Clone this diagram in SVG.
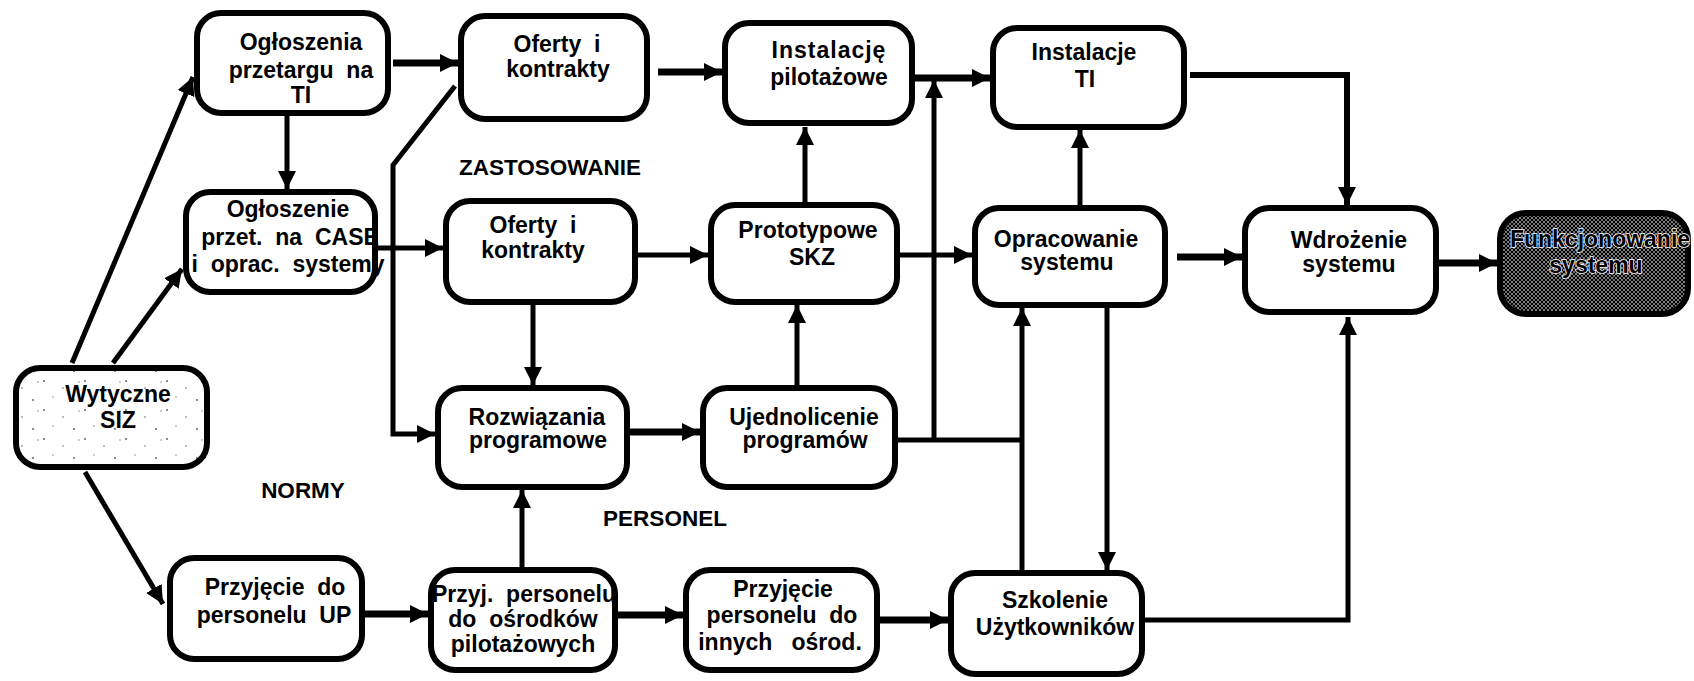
<svg xmlns="http://www.w3.org/2000/svg" width="1694" height="681" viewBox="0 0 1694 681">
<style>
.box{fill:#fff;stroke:#000;stroke-width:6}
.t{font-family:"Liberation Sans",Arial,sans-serif;font-weight:bold;font-size:23px;fill:#000;text-anchor:middle}
.lbl{font-family:"Liberation Sans",Arial,sans-serif;font-weight:bold;font-size:22.5px;fill:#000;text-anchor:middle}
.c{fill:none;stroke:#000;stroke-width:5;stroke-linejoin:miter}
.ca{fill:none;stroke:#000;stroke-width:5;marker-end:url(#ah)}
.cw{fill:none;stroke:#000;stroke-width:7;marker-end:url(#ah)}
.ft{stroke:#fff;stroke-width:1.6;paint-order:stroke}
</style>
<defs>
<marker id="ah" markerUnits="userSpaceOnUse" markerWidth="20" markerHeight="20" refX="18" refY="10" orient="auto">
<path d="M0,1 L18,10 L0,19 z" fill="#000"/>
</marker>
<pattern id="stip" width="41" height="29" patternUnits="userSpaceOnUse">
<rect width="41" height="29" fill="#fff"/>
<circle cx="3" cy="4" r="0.9" fill="#555"/>
<circle cx="22" cy="11" r="0.8" fill="#666"/>
<circle cx="33" cy="23" r="0.9" fill="#555"/>
<circle cx="12" cy="20" r="0.7" fill="#777"/>
<circle cx="38" cy="5" r="0.7" fill="#777"/>
</pattern>
<pattern id="hatch" width="4" height="4" patternUnits="userSpaceOnUse">
<rect width="4" height="4" fill="#fff"/>
<path d="M-1,1 L1,-1 M0,4 L4,0 M3,5 L5,3" stroke="#000" stroke-width="1.5"/>
<path d="M-1,3 L1,5 M0,0 L4,4 M3,-1 L5,1" stroke="#000" stroke-width="1.5"/>
</pattern>
</defs>

<g id="connectors">
<path class="ca" d="M72,363 L193,77"/>
<path class="ca" d="M113,363 L182,269"/>
<path class="ca" d="M85,472 L163,604"/>
<path class="ca" d="M287,116 L287,189"/>
<path class="cw" d="M393,63 L458,63"/>
<path class="ca" d="M372,248 L443,248"/>
<path class="ca" d="M455,86 L393,165 L393,434 L435,434"/>
<path class="cw" d="M658,72 L722,72"/>
<path class="cw" d="M915,78 L990,78"/>
<path class="ca" d="M934,440 L934,80"/>
<path class="ca" d="M1190,75 L1347,75 L1347,205" style="stroke-width:6"/>
<path class="ca" d="M638,255 L708,255"/>
<path class="ca" d="M805,202 L805,127"/>
<path class="ca" d="M900,255 L972,255"/>
<path class="ca" d="M1080,205 L1080,130"/>
<path class="cw" d="M1177,257 L1242,257"/>
<path class="cw" d="M1439,263 L1497,263"/>
<path class="ca" d="M533,305 L533,385"/>
<path class="cw" d="M630,432 L700,432"/>
<path class="ca" d="M797,385 L797,305"/>
<path class="c" d="M898,440 L1022,440"/>
<path class="ca" d="M1022,570 L1022,308"/>
<path class="ca" d="M1107,308 L1107,570"/>
<path class="ca" d="M1145,620 L1348,620 L1348,317"/>
<path class="cw" d="M365,614 L428,614"/>
<path class="ca" d="M522,567 L522,490"/>
<path class="cw" d="M618,615 L683,615"/>
<path class="cw" d="M880,620 L948,620"/>
</g>

<g id="n-ogloszenia"><rect class="box" x="197" y="13" width="191" height="100" rx="24"/>
<text class="t" x="301" y="50">Ogłoszenia</text><text class="t" x="301" y="78" xml:space="preserve">przetargu  na</text><text class="t" x="301" y="103">TI</text></g>

<g id="n-case"><rect class="box" x="186" y="192" width="189" height="100" rx="24"/>
<text class="t" x="288" y="217">Ogłoszenie</text><text class="t" x="290" y="245" xml:space="preserve">przet.  na  CASE</text><text class="t" x="288" y="272" xml:space="preserve">i  oprac.  systemy</text></g>

<g id="n-oferty1"><rect class="box" x="461" y="16" width="186" height="103" rx="24"/>
<text class="t" x="557" y="52" xml:space="preserve">Oferty  i</text><text class="t" x="558" y="77">kontrakty</text></g>

<g id="n-instalacje-pilot"><rect class="box" x="725" y="23" width="187" height="100" rx="24"/>
<text class="t" x="829" y="58" style="letter-spacing:1px">Instalację</text><text class="t" x="829" y="85">pilotażowe</text></g>

<g id="n-instalacje-ti"><rect class="box" x="993" y="28" width="191" height="99" rx="24"/>
<text class="t" x="1084" y="60">Instalacje</text><text class="t" x="1085" y="87">TI</text></g>

<g id="n-oferty2"><rect class="box" x="446" y="201" width="189" height="101" rx="24"/>
<text class="t" x="533" y="233" xml:space="preserve">Oferty  i</text><text class="t" x="533" y="258">kontrakty</text></g>

<g id="n-prototypowe"><rect class="box" x="711" y="205" width="186" height="97" rx="24"/>
<text class="t" x="808" y="238">Prototypowe</text><text class="t" x="812" y="265">SKZ</text></g>

<g id="n-opracowanie"><rect class="box" x="975" y="208" width="190" height="97" rx="24"/>
<text class="t" x="1066" y="247">Opracowanie</text><text class="t" x="1067" y="270">systemu</text></g>

<g id="n-wdrozenie"><rect class="box" x="1245" y="208" width="191" height="104" rx="24"/>
<text class="t" x="1349" y="248">Wdrożenie</text><text class="t" x="1349" y="272">systemu</text></g>

<g id="n-funkcjonowanie"><rect x="1500" y="213" width="188" height="101" rx="26" fill="url(#hatch)" stroke="#000" stroke-width="6"/>
<text class="t ft" x="1600" y="247">Funkcjonowanie</text><text class="t ft" x="1596" y="273">systemu</text></g>

<g id="n-wytyczne"><rect x="16" y="368" width="191" height="99" rx="24" fill="url(#stip)" stroke="#000" stroke-width="6"/>
<text class="t" x="118" y="402">Wytyczne</text><text class="t" x="118" y="428">SIZ</text></g>

<g id="n-rozwiazania"><rect class="box" x="438" y="388" width="189" height="99" rx="24"/>
<text class="t" x="537" y="425">Rozwiązania</text><text class="t" x="538" y="448">programowe</text></g>

<g id="n-ujednolicenie"><rect class="box" x="703" y="388" width="192" height="99" rx="24"/>
<text class="t" x="804" y="425">Ujednolicenie</text><text class="t" x="805" y="448">programów</text></g>

<g id="n-przyjecie-up"><rect class="box" x="170" y="558" width="192" height="101" rx="24"/>
<text class="t" x="275" y="595" xml:space="preserve">Przyjęcie  do</text><text class="t" x="274" y="623" xml:space="preserve">personelu  UP</text></g>

<g id="n-przyj-personelu"><rect class="box" x="431" y="570" width="184" height="100" rx="24"/>
<text class="t" x="524" y="602" xml:space="preserve">Przyj.  personelu</text><text class="t" x="523" y="627" xml:space="preserve">do  ośrodków</text><text class="t" x="523" y="652">pilotażowych</text></g>

<g id="n-przyjecie-innych"><rect class="box" x="686" y="570" width="191" height="100" rx="24"/>
<text class="t" x="783" y="597">Przyjęcie</text><text class="t" x="782" y="623" xml:space="preserve">personelu  do</text><text class="t" x="780" y="650" xml:space="preserve">innych   ośrod.</text></g>

<g id="n-szkolenie"><rect class="box" x="951" y="573" width="191" height="101" rx="24"/>
<text class="t" x="1055" y="608">Szkolenie</text><text class="t" x="1055" y="635">Użytkowników</text></g>

<g id="labels">
<text class="lbl" x="550" y="175">ZASTOSOWANIE</text>
<text class="lbl" x="303" y="498">NORMY</text>
<text class="lbl" x="665" y="526">PERSONEL</text>
</g>
</svg>
